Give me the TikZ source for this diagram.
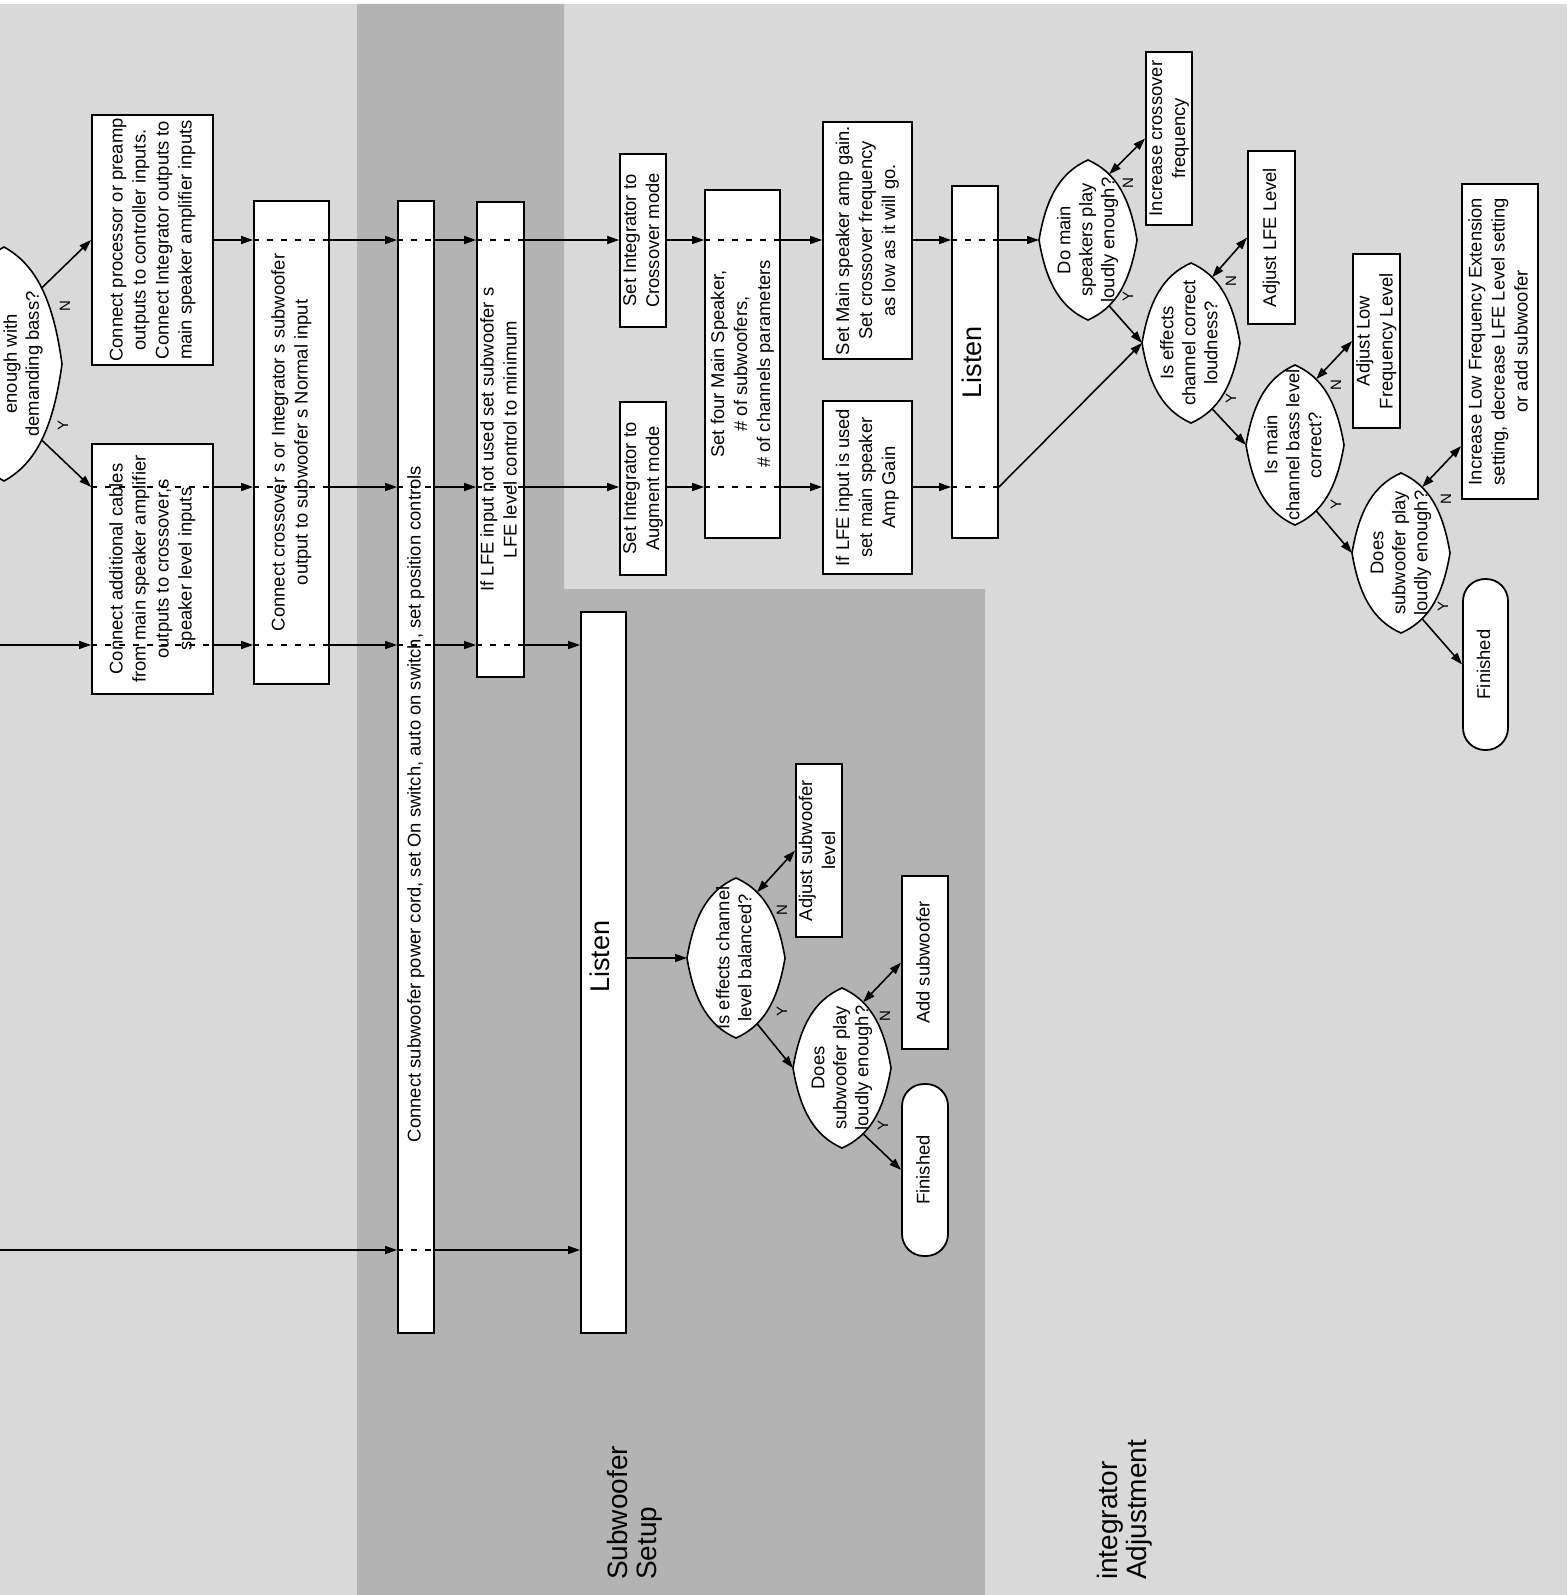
\documentclass[tikz,border=0pt]{standalone}
\usepackage{fontspec}
\setmainfont{Liberation Sans}
\usetikzlibrary{arrows.meta}
\definecolor{lightbg}{RGB}{217,217,217}
\definecolor{darkbg}{RGB}{179,179,179}
\newcommand\vt[1]{\rotatebox{90}{\begin{tabular}{@{}c@{}}#1\end{tabular}}}
% name, x, y, a, b, text, pos
\newcommand\lens[7]{%
  \coordinate (#1) at (#2,#3);
  \begin{scope}[shift={(#2,#3)}]
    \draw[lensline] (-#4,0) coordinate (#1-w)
      .. controls (-0.85*#4,-0.55*#5) and (-0.55*#4,-0.85*#5) .. (0,-#5)
      .. controls (0.55*#4,-0.85*#5) and (0.85*#4,-0.55*#5) .. (#4,0)
      .. controls (0.85*#4,0.55*#5) and (0.55*#4,0.85*#5) .. (0,#5)
      .. controls (-0.55*#4,0.85*#5) and (-0.85*#4,0.55*#5) .. cycle;
    \path (0,-#5) .. controls (0.55*#4,-0.85*#5) and (0.85*#4,-0.55*#5) .. (#4,0) coordinate[pos=#7] (#1-ne);
    \path (0,#5) .. controls (0.55*#4,0.85*#5) and (0.85*#4,0.55*#5) .. (#4,0) coordinate[pos=#7] (#1-se);
  \end{scope}
  \node[lenstext] (#1-t) at (#1) {\vt{#6}};
}
\begin{document}
\begin{tikzpicture}[x=1pt,y=-1pt,
  box/.style={draw=black,line width=1.8pt,fill=white,inner sep=0pt,font=\fontsize{18.4}{23}\selectfont},
  bigbox/.style={box,font=\fontsize{27}{30}\selectfont},
  lensline/.style={draw=black,line width=1.6pt,fill=white},
  lenstext/.style={inner sep=0pt,font=\fontsize{18.4}{22}\selectfont},
  arr/.style={line width=1.6pt,-{Triangle[length=12pt,width=8pt]}},
  darr/.style={line width=1.6pt,{Triangle[length=12pt,width=8pt]}-{Triangle[length=12pt,width=8pt]}},
  dl/.style={line width=1.6pt,dash pattern=on 6pt off 8pt},
  yn/.style={font=\fontsize{15}{15}\selectfont,inner sep=0pt},
  sect/.style={font=\fontsize{28}{29}\selectfont,inner sep=0pt,anchor=south},
]
\useasboundingbox (0,0) rectangle (1567,1595);
\clip (0,0) rectangle (1567,1595);
% backgrounds
\fill[white] (0,0) rectangle (1567,1595);
\fill[lightbg] (0,4) rectangle (1567,1595);
\fill[darkbg] (357,4) -- (564,4) -- (564,589) -- (985,589) -- (985,1595) -- (357,1595) -- cycle;

% lanes
\coordinate (lA) at (0,240);
\coordinate (lB) at (0,487);
\coordinate (inC) at (0,645);
\coordinate (inD) at (0,1250);
\coordinate (p20) at (0,446);

% left (cut off) decision
\lens{L}{4}{364}{58}{117}{}{0.5}
\node[lenstext] (Ltext) at (23.5,364) {\vt{enough with\\demanding bass?}};

% boxes
\node[box,minimum width=121pt,minimum height=250pt] (b1) at (152.5,240) {\vt{Connect processor or preamp\\outputs to controller inputs.\\Connect Integrator outputs to\\main speaker amplifier inputs}};
\node[box,minimum width=121pt,minimum height=250pt] (b2) at (152.5,569) {\vt{Connect additional cables\\from main speaker amplifier\\outputs to crossover,s\\speaker level inputs}};
\node[box,minimum width=75pt,minimum height=483pt] (b3) at (291.5,442.5) {\vt{Connect crossover s or Integrator s subwoofer\\output to subwoofer s Normal input}};
\node[box,minimum width=36pt,minimum height=1132pt] (b4) at (416,767) {\vt{Connect subwoofer power cord, set On switch, auto on switch, set position controls\hspace*{74pt}}};
\node[box,minimum width=47pt,minimum height=475pt] (b5) at (500.5,439.5) {\vt{If LFE input not used set subwoofer s\\LFE level control to minimum}};
\node[bigbox,minimum width=45pt,minimum height=721pt] (b6) at (603.5,972.5) {\vt{\hspace*{32pt}Listen}};
\node[box,minimum width=46pt,minimum height=173pt] (b7) at (643,240.5) {\vt{Set Integrator to\\Crossover mode}};
\node[box,minimum width=46pt,minimum height=173pt] (b8) at (643,488.5) {\vt{Set Integrator to\\Augment mode}};
\node[box,minimum width=75pt,minimum height=348pt] (b9) at (742.5,364) {\vt{Set four Main Speaker,\\\# of subwoofers,\\\# of channels parameters}};
\node[box,minimum width=89pt,minimum height=237pt] (b10) at (867.5,240.5) {\vt{Set Main speaker amp gain.\\Set crossover frequency\\as low as it will go.}};
\node[box,minimum width=89pt,minimum height=173pt] (b11) at (867.5,487.5) {\vt{If LFE input is used\\set main speaker\\Amp Gain}};
\node[bigbox,minimum width=46pt,minimum height=352pt] (b12) at (975,362) {\vt{Listen}};
\node[box,minimum width=46pt,minimum height=173pt] (b14) at (1169,138.5) {\vt{Increase crossover\\frequency}};
\node[box,minimum width=47pt,minimum height=173pt] (b16) at (1271.5,237.5) {\vt{Adjust LFE Level}};
\node[box,minimum width=47pt,minimum height=174pt] (b18) at (1376.5,341) {\vt{Adjust Low\\Frequency Level}};
\node[box,minimum width=76pt,minimum height=315pt] (b20) at (1500,341.5) {\vt{Increase Low Frequency Extension\\setting, decrease LFE Level setting\\or add subwoofer}};
\node[box,rounded corners=22pt,minimum width=45pt,minimum height=171pt] (b21) at (1485.5,664.5) {\vt{Finished}};
\node[box,minimum width=46pt,minimum height=173pt] (b23) at (819,850.5) {\vt{Adjust subwoofer\\level}};
\node[box,minimum width=46pt,minimum height=173pt] (b25) at (925,962.5) {\vt{Add subwoofer}};
\node[box,rounded corners=22pt,minimum width=46pt,minimum height=172pt] (b26) at (925,1170) {\vt{Finished}};

% decisions
\lens{d13}{1088}{240}{49}{80}{Do main\\speakers play\\loudly enough?}{0.3}
\lens{d15}{1191}{343}{49}{80}{Is effects\\channel correct\\loudness?}{0.3}
\lens{d17}{1295}{445}{49}{80}{Is main\\channel bass level\\correct?}{0.3}
\lens{d19}{1401}{553}{49}{80}{Does\\subwoofer play\\loudly enough?}{0.3}
\lens{d22}{736}{958}{49}{80}{Is effects channel\\level balanced?}{0.3}
\lens{d24}{842}{1068}{49}{80}{Does\\subwoofer play\\loudly enough?}{0.3}

% Y / N labels
\node[yn] (nL) at (65,306) {\rotatebox{90}{N}};
\node[yn] (yL) at (63,425) {\rotatebox{90}{Y}};
\node[yn] (n13) at (1128,183) {\rotatebox{90}{N}};
\node[yn] (y13) at (1128,296) {\rotatebox{90}{Y}};
\node[yn] (n15) at (1231,281) {\rotatebox{90}{N}};
\node[yn] (y15) at (1231,398) {\rotatebox{90}{Y}};
\node[yn] (n17) at (1336,385) {\rotatebox{90}{N}};
\node[yn] (y17) at (1336,504) {\rotatebox{90}{Y}};
\node[yn] (n19) at (1446,499) {\rotatebox{90}{N}};
\node[yn] (y19) at (1443,606) {\rotatebox{90}{Y}};
\node[yn] (n22) at (782,910) {\rotatebox{90}{N}};
\node[yn] (y22) at (782,1011) {\rotatebox{90}{Y}};
\node[yn] (n24) at (885,1016) {\rotatebox{90}{N}};
\node[yn] (y24) at (883,1125) {\rotatebox{90}{Y}};

% section labels
\node[sect] (secsub) at (636,1580) {\rotatebox{90}{\begin{tabular}{@{}l@{}}Subwoofer\\Setup\end{tabular}}};
\node[sect] (secint) at (1126,1580) {\rotatebox{90}{\begin{tabular}{@{}l@{}}integrator\\Adjustment\end{tabular}}};

% dashed pass-throughs
\foreach \b in {b3,b4,b5,b9,b12} {\draw[dl] (\b.west |- lA) -- (\b.east |- lA);}
\foreach \b in {b2,b3,b4,b5,b9,b12} {\draw[dl] (\b.west |- lB) -- (\b.east |- lB);}
\foreach \b in {b2,b3,b4,b5} {\draw[dl] (\b.west |- inC) -- (\b.east |- inC);}
\draw[dl] (b4.west |- inD) -- (b4.east |- inD);

% lane A
\draw[arr] (L-ne) -- (b1.west |- lA);
\draw[arr] (b1.east |- lA) -- (b3.west |- lA);
\draw[arr] (b3.east |- lA) -- (b4.west |- lA);
\draw[arr] (b4.east |- lA) -- (b5.west |- lA);
\draw[arr] (b5.east |- lA) -- (b7.west |- lA);
\draw[arr] (b7.east |- lA) -- (b9.west |- lA);
\draw[arr] (b9.east |- lA) -- (b10.west |- lA);
\draw[arr] (b10.east |- lA) -- (b12.west |- lA);
\draw[arr] (b12.east |- lA) -- (d13-w);
% lane B
\draw[arr] (L-se) -- (b2.west |- lB);
\draw[arr] (b2.east |- lB) -- (b3.west |- lB);
\draw[arr] (b3.east |- lB) -- (b4.west |- lB);
\draw[arr] (b4.east |- lB) -- (b5.west |- lB);
\draw[arr] (b5.east |- lB) -- (b8.west |- lB);
\draw[arr] (b8.east |- lB) -- (b9.west |- lB);
\draw[arr] (b9.east |- lB) -- (b11.west |- lB);
\draw[arr] (b11.east |- lB) -- (b12.west |- lB);
\draw[arr] (b12.east |- lB) -- (d15-w);
% lane C
\draw[arr] (inC) -- (b2.west |- inC);
\draw[arr] (b2.east |- inC) -- (b3.west |- inC);
\draw[arr] (b3.east |- inC) -- (b4.west |- inC);
\draw[arr] (b4.east |- inC) -- (b5.west |- inC);
\draw[arr] (b5.east |- inC) -- (b6.west |- inC);
% lane D
\draw[arr] (inD) -- (b4.west |- inD);
\draw[arr] (b4.east |- inD) -- (b6.west |- inD);
% subwoofer setup decisions
\draw[arr] (b6.east |- d22-w) -- (d22-w);
\draw[darr] (d22-ne) -- (b23.west);
\draw[arr] (d22-se) -- (d24-w);
\draw[darr] (d24-ne) -- (b25.west);
\draw[arr] (d24-se) -- (b26.west);
% integrator adjustment decisions
\draw[darr] (d13-ne) -- (b14.west);
\draw[arr] (d13-se) -- (d15-w);
\draw[darr] (d15-ne) -- (b16.west);
\draw[arr] (d15-se) -- (d17-w);
\draw[darr] (d17-ne) -- (b18.west);
\draw[arr] (d17-se) -- (d19-w);
\draw[darr] (d19-ne) -- (b20.west |- p20);
\draw[arr] (d19-se) -- (b21.west);
\end{tikzpicture}
\end{document}
